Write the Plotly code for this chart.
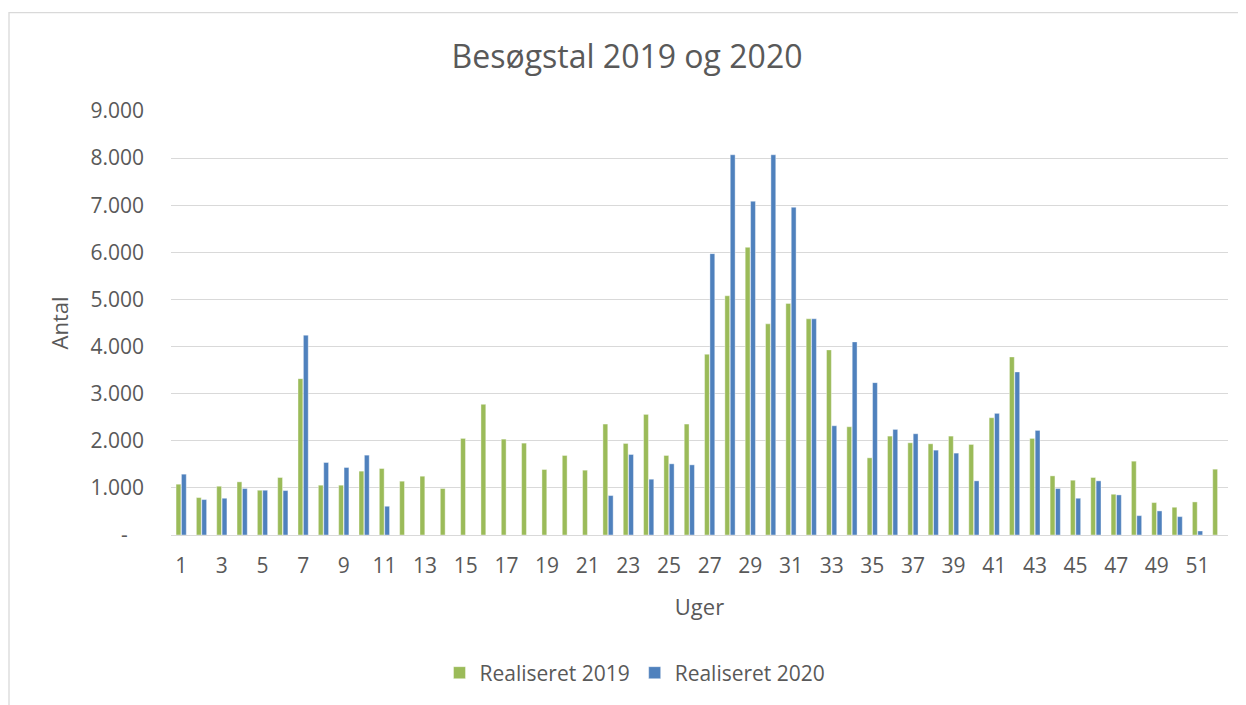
import plotly.graph_objects as go

weeks = list(range(1, 53))
real_2019 = [1078, 794, 1035, 1128, 950, 1220, 3319, 1057, 1057, 1355,
             1411, 1142, 1248, 986, 2050, 2773, 2035, 1950, 1390, 1688,
             1376, 2355, 1943, 2560, 1688, 2355, 3837, 5078, 6106, 4482,
             4915, 4589, 3929, 2298, 1638, 2099, 1957, 1936, 2099, 1922,
             2489, 3780, 2050, 1255, 1163, 1220, 865, 1567, 688, 589,
             702, 1397]
real_2020 = [1291, 752, 780, 986, 950, 943, 4241, 1539, 1433, 1695,
             610, None, None, None, None, None, None, None, None, None,
             None, 837, 1709, 1184, 1511, 1489, 5972, 8071, 7085, 8071,
             6957, 4589, 2319, 4099, 3234, 2241, 2149, 1801, 1738, 1149,
             2582, 3461, 2220, 986, 780, 1149, 851, 411, 511, 390,
             85, None]
y_tickvals = [0, 1000, 2000, 3000, 4000, 5000, 6000, 7000, 8000, 9000]
y_ticktext = ["-\u00a0\u00a0\u00a0", "1.000", "2.000", "3.000", "4.000", "5.000",
              "6.000", "7.000", "8.000", "9.000"]
x_tickvals = list(range(1, 53, 2))

FONT = "Open Sans"
GREY = "#595959"

fig = go.Figure()
fig.add_trace(go.Bar(x=weeks, y=real_2019, name="Realiseret 2019",
                     marker=dict(color="#9BBB59", line=dict(color="white", width=0.4))))
fig.add_trace(go.Bar(x=weeks, y=real_2020, name="Realiseret 2020",
                     marker=dict(color="#4F81BD", line=dict(color="white", width=0.4))))

# page body has an 8px margin, so figure coordinates are reference - 8
OFF = 8
W, H = 1246 - OFF, 705 - OFF
L, T = 171 - OFF, 111 - OFF
R = W - (1228 - OFF)
B = H - (538 - OFF)
pw, ph = W - L - R, H - T - B

def py(y):
    """reference pixel y -> paper y"""
    return ((538 - OFF) - (y - OFF)) / ph

def px(x):
    return ((x - OFF) - L) / pw

fig.update_layout(
    width=W, height=H,
    margin=dict(l=L, r=R, t=T, b=B),
    paper_bgcolor="white", plot_bgcolor="white",
    barmode="group", bargap=0.47, bargroupgap=0.1,
    font=dict(family=FONT, color=GREY, size=21),
    title=dict(text="Besøgstal 2019 og 2020", x=0.5, xanchor="center",
               y=1 - (57 - OFF) / H, yanchor="middle",
               font=dict(family=FONT, size=32, color=GREY)),
    legend=dict(orientation="h", x=px(635), xanchor="center", y=py(677),
                yanchor="middle", font=dict(size=21, color=GREY),
                itemwidth=30, traceorder="normal"),
    xaxis=dict(range=[0.5, 52.5], tickmode="array", tickvals=x_tickvals,
               ticks="", showgrid=False, showline=True, linecolor="#D9D9D9",
               linewidth=1.3, tickfont=dict(size=21, color=GREY),
               ticklabelstandoff=12,
               title=dict(text="Uger", font=dict(size=22, color=GREY), standoff=21)),
    yaxis=dict(range=[0, 9000], tickmode="array", tickvals=y_tickvals,
               ticktext=y_ticktext, ticks="", showgrid=True, gridcolor="#D9D9D9",
               gridwidth=1.3, zeroline=False, tickfont=dict(size=21, color=GREY),
               ticklabelstandoff=26,
               title=dict(text="Antal", font=dict(size=22, color=GREY), standoff=15)),
    shapes=[dict(type="rect", xref="paper", yref="paper",
                 x0=px(9), x1=px(1241),
                 y0=py(712), y1=py(12),
                 line=dict(color="#D9D9D9", width=1.3), fillcolor="rgba(0,0,0,0)",
                 layer="below")],
)

fig.write_html("out.html")
